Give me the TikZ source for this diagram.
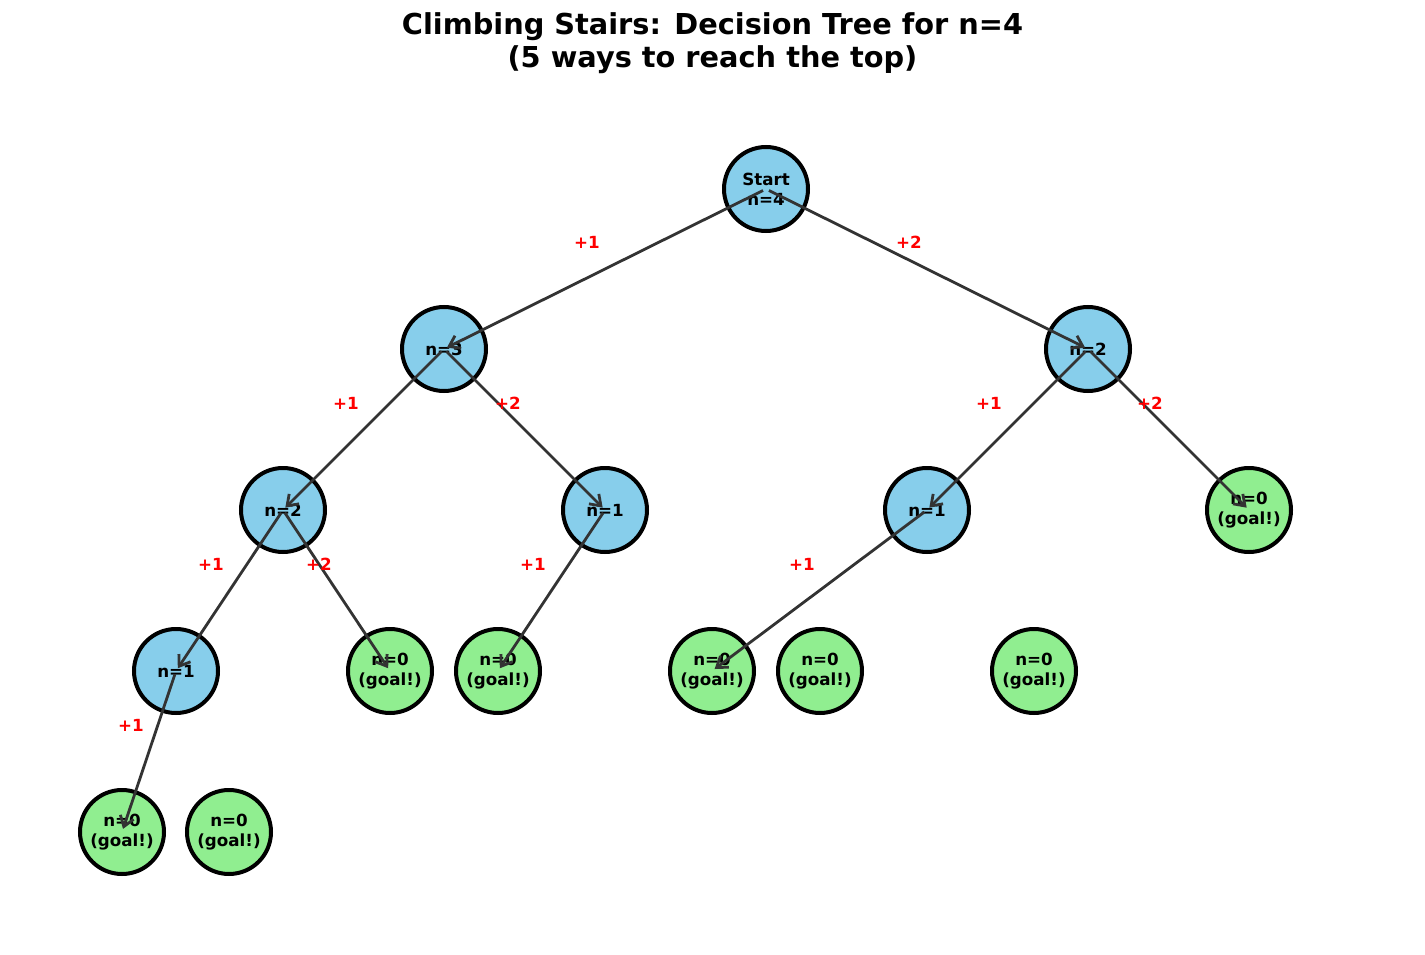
\documentclass[tikz,border=0pt]{standalone}
\usepackage{fontspec}
\setmainfont{DejaVu Sans}
\usetikzlibrary{arrows.meta}
\definecolor{skyblue}{HTML}{87CEEB}
\definecolor{lightgreen}{HTML}{90EE90}
\definecolor{edgegray}{HTML}{333333}
\tikzset{
  state/.style={circle, draw=black, line width=4pt, minimum size=84pt, inner sep=0pt,
    fill=skyblue, font=\fontsize{16.7}{20}\selectfont\bfseries, align=center},
  goal/.style={state, fill=lightgreen},
  edge/.style={draw=edgegray, line width=2.8pt, -{Straight Barb[length=10pt,width=14pt]},
    shorten <=3.3pt, shorten >=3.3pt},
  lab/.style={text=red, font=\fontsize{16.7}{20}\selectfont\bfseries, inner sep=0pt},
  ttl/.style={font=\fontsize{28.8}{34}\selectfont\bfseries, anchor=base, inner sep=0pt}
}
\begin{document}
\begin{tikzpicture}[x=1pt,y=-1pt]
\useasboundingbox (0,0) rectangle (1425,955);
\node[ttl] (title1) at (712.5,35) {Climbing Stairs: Decision Tree for n=4};
\node[ttl] (title2) at (712.5,68) {(5 ways to reach the top)};
% level 0
\node[state] (s) at (766,189) {Start\\n=4};
% level 1
\node[state] (a) at (444,349) {n=3};
\node[state] (b) at (1088,349) {n=2};
% level 2
\node[state] (aa) at (283,510) {n=2};
\node[state] (ab) at (605,510) {n=1};
\node[state] (ba) at (927,510) {n=1};
\node[goal] (bb) at (1249,510) {n=0\\(goal!)};
% level 3
\node[state] (aaa) at (176,671) {n=1};
\node[goal] (aab) at (390,671) {n=0\\(goal!)};
\node[goal] (aba) at (498,671) {n=0\\(goal!)};
\node[goal] (baa) at (712,671) {n=0\\(goal!)};
\node[goal] (g1) at (820,671) {n=0\\(goal!)};
\node[goal] (g2) at (1034,671) {n=0\\(goal!)};
% level 4
\node[goal] (aaaa) at (122,832) {n=0\\(goal!)};
\node[goal] (g3) at (229,832) {n=0\\(goal!)};
% edges
\draw[edge] (s.center) -- (a.center);
\draw[edge] (s.center) -- (b.center);
\draw[edge] (a.center) -- (aa.center);
\draw[edge] (a.center) -- (ab.center);
\draw[edge] (b.center) -- (ba.center);
\draw[edge] (b.center) -- (bb.center);
\draw[edge] (aa.center) -- (aaa.center);
\draw[edge] (aa.center) -- (aab.center);
\draw[edge] (ab.center) -- (aba.center);
\draw[edge] (ba.center) -- (baa.center);
\draw[edge] (aaa.center) -- (aaaa.center);
% labels
\node[lab] (l1) at (587,242) {+1};
\node[lab] (l2) at (909,242) {+2};
\node[lab] (l3) at (346,403) {+1};
\node[lab] (l4) at (508,403) {+2};
\node[lab] (l5) at (989,403) {+1};
\node[lab] (l6) at (1150,403) {+2};
\node[lab] (l7) at (211,564) {+1};
\node[lab] (l8) at (319,564) {+2};
\node[lab] (l9) at (533,564) {+1};
\node[lab] (l10) at (802,564) {+1};
\node[lab] (l11) at (131,725) {+1};
\end{tikzpicture}
\end{document}
